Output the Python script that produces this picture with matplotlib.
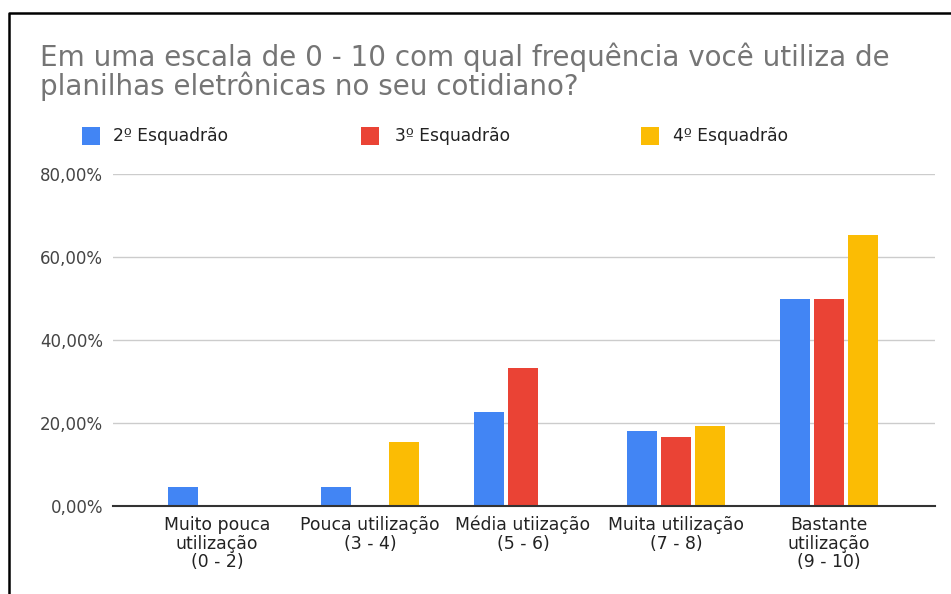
import matplotlib
matplotlib.use("Agg")
import matplotlib.pyplot as plt
import numpy as np
from matplotlib.lines import Line2D
from matplotlib.patches import Rectangle

plt.rcParams['font.family'] = ['DejaVu Sans']

categories = ["Muito pouca\nutilização\n(0 - 2)", "Pouca utilização\n(3 - 4)",
              "Média utiização\n(5 - 6)", "Muita utilização\n(7 - 8)",
              "Bastante\nutilização\n(9 - 10)"]
series_names = ["2º Esquadrão", "3º Esquadrão", "4º Esquadrão"]
esq2 = [4.55, 4.55, 22.73, 18.18, 50.0]
esq3 = [0.0, 0.0, 33.33, 16.67, 50.0]
esq4 = [0.0, 15.38, 0.0, 19.23, 65.38]
colors = ["#4285F4", "#EA4335", "#FBBC04"]
yticks = [0, 20, 40, 60, 80]
ytick_labels = ["0,00%", "20,00%", "40,00%", "60,00%", "80,00%"]

W, H = 951, 594
fig = plt.figure(figsize=(W / 100, H / 100), dpi=100)
ax = fig.add_axes([113 / W, 88 / H, (935 - 113) / W, (506 - 174) / H])

x = np.arange(len(categories))
bw = 30 / 153
step = 34 / 153
for i, (vals, c) in enumerate(zip([esq2, esq3, esq4], colors)):
    ax.bar(x + (i - 1) * step, vals, width=bw, color=c, zorder=3, label=series_names[i])

ax.set_xlim((113 - 217) / 153, (935 - 217) / 153)
ax.set_ylim(0, 80)
ax.set_yticks(yticks)
ax.set_yticklabels(ytick_labels, fontsize=12, color="#444444")
ax.set_xticks(x)
ax.set_xticklabels(categories, fontsize=12.4, color="#222222", linespacing=1.05)
ax.tick_params(axis='both', length=0)
ax.tick_params(axis='y', pad=7.2)
ax.tick_params(axis='x', pad=7.2)
ax.grid(axis='y', color="#cccccc", linewidth=1, zorder=0)
for s in ["top", "right", "left"]:
    ax.spines[s].set_visible(False)
ax.spines["bottom"].set_color("#333333")
ax.spines["bottom"].set_linewidth(1.5)
ax.spines["bottom"].set_zorder(4)

# Title
fig.text(40 / W, 1 - 42 / H, "Em uma escala de 0 - 10 com qual frequência você utiliza de\nplanilhas eletrônicas no seu cotidiano?",
         fontsize=20, color="#757575", va="top", ha="left", linespacing=0.98)

# Legend
sq_x = [82, 361, 641]
tx_x = [113, 395, 673]
for name, c, sx, tx in zip(series_names, colors, sq_x, tx_x):
    fig.patches.append(Rectangle((sx / W, 1 - 145 / H), 18 / W, 18 / H, transform=fig.transFigure,
                                 facecolor=c, edgecolor='none'))
    fig.text(tx / W, 1 - 136 / H, name, fontsize=12.3, color="#222222", va="center", ha="left")

# Border
fig.add_artist(Line2D([9 / W, 9 / W, 1], [0, 1 - 13 / H, 1 - 13 / H], transform=fig.transFigure,
                      color="black", linewidth=1.8))

fig.savefig("out.png", dpi=100)
